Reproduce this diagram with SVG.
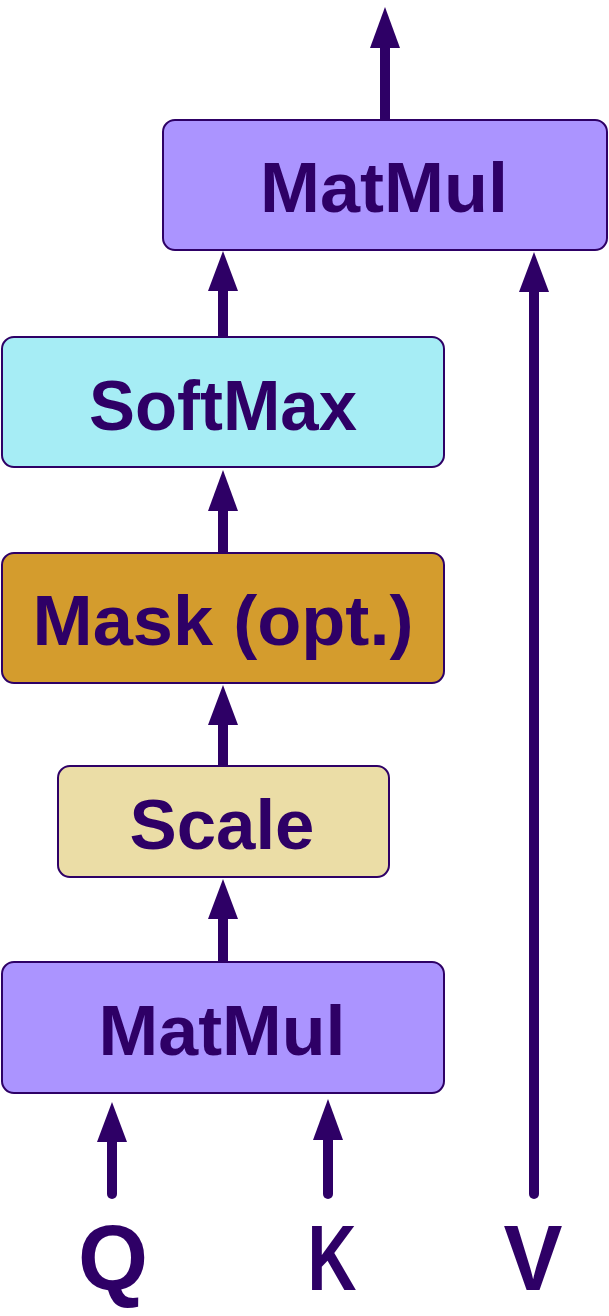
<svg xmlns="http://www.w3.org/2000/svg" width="609" height="1316" viewBox="0 0 609 1316">
<style>
.box{stroke:#2e0066;stroke-width:2}
.lbl{font-family:"Liberation Sans",Arial,sans-serif;font-weight:bold;font-size:70px;fill:#2e0066;text-anchor:middle}
.io{font-family:"Liberation Sans",Arial,sans-serif;font-weight:bold;font-size:93px;fill:#2e0066;text-anchor:middle}
.shaft{stroke:#2e0066;stroke-width:10;fill:none}
.head{fill:#2e0066}
</style>
<rect width="609" height="1316" fill="#ffffff"/>
<g id="connectors">
  <line class="shaft" x1="385" y1="120" x2="385" y2="46"/>
  <polygon class="head" points="385,7 400,48 370,48"/>
  <line class="shaft" x1="223" y1="337" x2="223" y2="288"/>
  <polygon class="head" points="223,251 238,291 208,291"/>
  <line class="shaft" x1="223" y1="553" x2="223" y2="508"/>
  <polygon class="head" points="223,470 238,511 208,511"/>
  <line class="shaft" x1="223" y1="766" x2="223" y2="722"/>
  <polygon class="head" points="223,685 238,725 208,725"/>
  <line class="shaft" x1="223" y1="962" x2="223" y2="916"/>
  <polygon class="head" points="223,879 238,919 208,919"/>
  <line class="shaft" x1="112" y1="1194" x2="112" y2="1140" stroke-linecap="round"/>
  <polygon class="head" points="112,1102 127,1142 97,1142"/>
  <line class="shaft" x1="328" y1="1194" x2="328" y2="1138" stroke-linecap="round"/>
  <polygon class="head" points="328,1099 343,1140 313,1140"/>
  <line class="shaft" x1="534" y1="1194" x2="534" y2="289" stroke-linecap="round"/>
  <polygon class="head" points="534,252 549,292 519,292"/>
</g>
<g id="matmul-top">
  <rect class="box" x="163" y="120" width="444" height="130" rx="12" fill="#ab94ff"/>
  <text class="lbl" x="384" y="212" textLength="248" lengthAdjust="spacingAndGlyphs">MatMul</text>
</g>
<g id="softmax">
  <rect class="box" x="2" y="337" width="442" height="130" rx="12" fill="#a6edf5"/>
  <text class="lbl" x="223" y="430" textLength="268" lengthAdjust="spacingAndGlyphs">SoftMax</text>
</g>
<g id="mask">
  <rect class="box" x="2" y="553" width="442" height="130" rx="12" fill="#d49c2d"/>
  <text class="lbl" x="223" y="645" textLength="381" lengthAdjust="spacingAndGlyphs">Mask (opt.)</text>
</g>
<g id="scale">
  <rect class="box" x="58" y="766" width="331" height="111" rx="12" fill="#ebdda6"/>
  <text class="lbl" x="222" y="849" textLength="185" lengthAdjust="spacingAndGlyphs">Scale</text>
</g>
<g id="matmul-bottom">
  <rect class="box" x="2" y="962" width="442" height="131" rx="12" fill="#ab94ff"/>
  <text class="lbl" x="222" y="1055" textLength="247" lengthAdjust="spacingAndGlyphs">MatMul</text>
</g>
<g id="inputs">
  <text class="io" x="113" y="1290" textLength="70" lengthAdjust="spacingAndGlyphs">Q</text>
  <text class="io" x="332" y="1290" textLength="49" lengthAdjust="spacingAndGlyphs">K</text>
  <text class="io" x="533" y="1290" textLength="59" lengthAdjust="spacingAndGlyphs">V</text>
</g>
</svg>
